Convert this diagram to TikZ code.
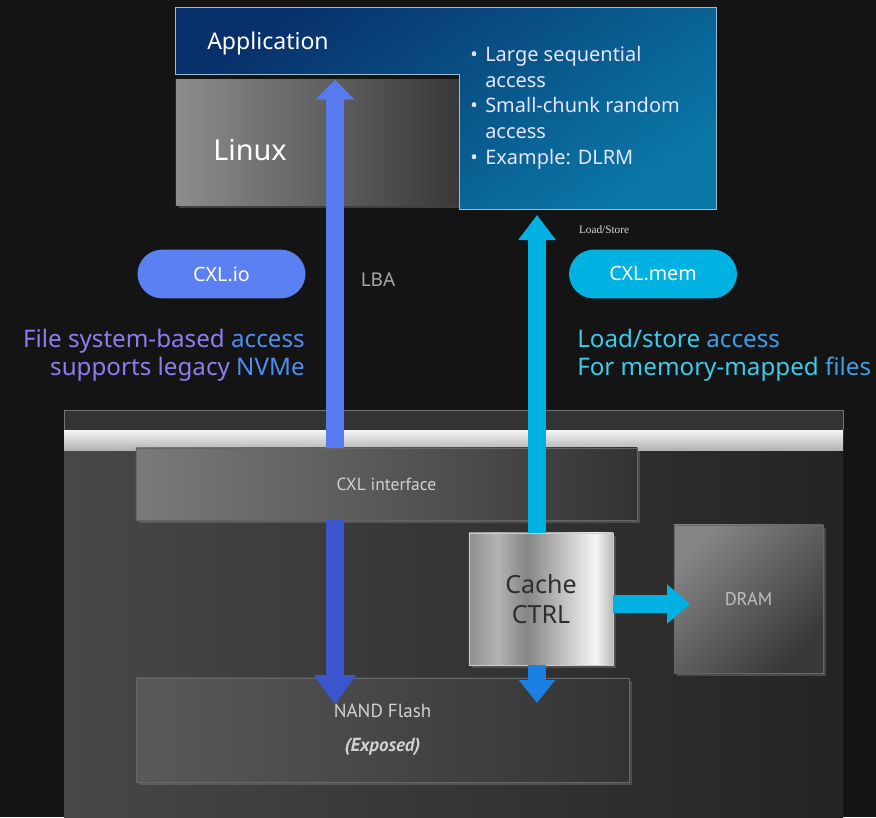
\documentclass[tikz,border=0pt]{standalone}
\usepackage{fontspec}
\setmainfont{Noto Sans}
\newfontfamily\boxfont{PT Sans}
\newfontfamily\notefont{Liberation Serif}
\usetikzlibrary{arrows.meta,positioning,calc,shadows}
\definecolor{bgdark}{HTML}{141414}
\definecolor{appA}{HTML}{08306A}
\definecolor{appB}{HTML}{0A76A6}
\definecolor{appline}{HTML}{9DBBD2}
\definecolor{ioblue}{HTML}{5B80F2}
\definecolor{iodark}{HTML}{3048C0}
\definecolor{memcyan}{HTML}{00B2E2}
\definecolor{memdeep}{HTML}{1A7FE0}
\definecolor{fsviolet}{HTML}{8C7EF0}
\definecolor{fsblue}{HTML}{4E8EF2}
\definecolor{lscyan}{HTML}{3CCBEA}
\definecolor{lsblue}{HTML}{3C9FEA}
\definecolor{m1}{HTML}{8E8E8E}
\definecolor{m2}{HTML}{B4B4B4}
\definecolor{m3}{HTML}{858585}
\definecolor{m4}{HTML}{F6F6F6}
\definecolor{m5}{HTML}{B8B8B8}
\pgfdeclarehorizontalshading{metal}{100bp}{color(0bp)=(m1); color(25bp)=(m1); color(35bp)=(m2); color(45bp)=(m3); color(69bp)=(m4); color(75bp)=(m5); color(100bp)=(m5)}
\tikzset{
  chip/.style={inner sep=0pt, draw=black!60, line width=0.4pt, drop shadow={opacity=0.4, shadow xshift=2pt, shadow yshift=-2pt}},
  pill/.style={rounded corners=0.62cm, minimum width=4.2cm, minimum height=1.22cm, text=white, font=\fontsize{14}{16}\selectfont},
  bullettext/.style={anchor=base west, inner sep=0pt, text=white!90!blue, font=\fontsize{14.2}{16}\selectfont},
  iopath/.style={line width=0.45cm},
}
\begin{document}
\begin{tikzpicture}[x=0.025cm,y=-0.025cm]
    \fill[bgdark] (0,0) rectangle (876,817);
    \useasboundingbox (0,0) rectangle (876,817);
    % device
    \fill[left color=black!72, right color=black!86] (64,410) rectangle (843,817);
    \fill[black!80] (64,410) rectangle (843,430);
    \draw[black!55] (64,430) -- (64,410) -- (843,410) -- (843,430);
    \fill[top color=black!4, bottom color=black!30] (64,430) rectangle (843,450);
    % host
    \node[chip, draw=none, left color=black!45, right color=black!78, minimum width=7.075cm, minimum height=3.125cm] (linux) at (317.5,142.5) {};
    \node[text=white, font=\fontsize{20.5}{24}\selectfont] (linuxlabel) at (250,150) {Linux};
    \shade[top color=appA, bottom color=appB, shading angle=35, draw=appline, line width=0.7pt]
        (175,7) -- (716,7) -- (716,209) -- (459,209) -- (459,74) -- (175,74) -- cycle;
    \coordinate (apptip) at (537,215);
    \node[text=white, font=\fontsize{16.4}{18}\selectfont] (app) at (268,43) {Application};
    \node[bullettext] (dot1) at (470,61) {•};
    \node[bullettext] (dot2) at (470,112) {•};
    \node[bullettext] (dot3) at (470,164) {•};
    \node[bullettext] (seq) at (485,61) {Large sequential};
    \node[bullettext] (seqb) at (485,87) {access};
    \node[bullettext] (rnd) at (485,112) {Small-chunk random};
    \node[bullettext] (rndb) at (485,138) {access};
    \node[bullettext] (dlrm) at (485,164) {Example: DLRM};
    % protocol labels
    \node[pill, fill=ioblue] (cxlio) at (221.5,274) {CXL.io};
    \node[pill, fill=memcyan] (cxlmem) at (653,274) {CXL.mem};
    \node[text=black!35, font=\fontsize{13.5}{16}\selectfont] (lba) at (378,280) {LBA};
    \node[text=white!85!black, font=\notefont\fontsize{8}{10}\selectfont] (ls) at (604,230) {Load/Store};
    \node[anchor=east, align=right, inner sep=0pt, font=\fontsize{17.2}{20}\selectfont] (fs) at (305,355)
        {\textcolor{fsviolet}{File system-based} \textcolor{fsblue}{access}\\
         \textcolor{fsviolet}{supports legacy} \textcolor{fsblue}{NVMe}};
    \node[anchor=west, align=left, inner sep=0pt, font=\fontsize{17.2}{20}\selectfont] (lsa) at (577,355)
        {\textcolor{lscyan}{Load/store} \textcolor{lsblue}{access}\\
         \textcolor{lscyan}{For memory-mapped} \textcolor{lsblue}{files}};
    % device blocks
    \node[chip, left color=black!52, right color=black!80, minimum width=12.525cm, minimum height=1.8cm,
        text=black!18, font=\boxfont\fontsize{12.5}{15}\selectfont] (cxl) at (386.5,484) {CXL interface};
    \node[chip, left color=black!65, right color=black!80, minimum width=12.325cm, minimum height=2.6cm,
        align=center, text=black!18, font=\boxfont\fontsize{13.5}{17}\selectfont] (nand) at (382.5,730)
        {NAND Flash\\[7pt]\textbf{\textit{(Exposed)}}};
    \node[chip, left color=black!48, right color=black!78, shading angle=45, minimum width=3.725cm, minimum height=3.7cm,
        text=black!25, font=\boxfont\fontsize{13}{16}\selectfont] (dram) at (748.5,599) {DRAM};
    \node[chip, shade, shading=metal, draw=white!80!black, minimum width=3.6cm, minimum height=3.3cm,
        align=center, text=black!82, font=\fontsize{17.8}{21}\selectfont] (cache) at (541,599) {Cache\\CTRL};
    \coordinate (nandtipA) at (335,705);
    \coordinate (nandtipB) at (537,703);
    \coordinate (dramtip) at (690,604);
    % connectors
    \draw[iopath, ioblue!92!iodark, -{Triangle[length=0.5cm,width=0.95cm]}] (cxl.north -| nandtipA) -- (linux.north -| nandtipA);
    \draw[iopath, iodark!75!ioblue, -{Triangle[length=0.75cm,width=1cm]}] (cxl.south -| nandtipA) -- (nandtipA);
    \draw[iopath, memcyan, -{Triangle[length=0.625cm,width=0.9cm]}] (cache.north -| apptip) -- (apptip);
    \draw[iopath, memdeep, -{Triangle[length=0.575cm,width=0.875cm]}] (cache.south -| nandtipB) -- (nandtipB);
    \draw[iopath, memcyan, -{Triangle[length=0.575cm,width=0.95cm]}] (cache.east |- dramtip) -- (dramtip);
\end{tikzpicture}
\end{document}
